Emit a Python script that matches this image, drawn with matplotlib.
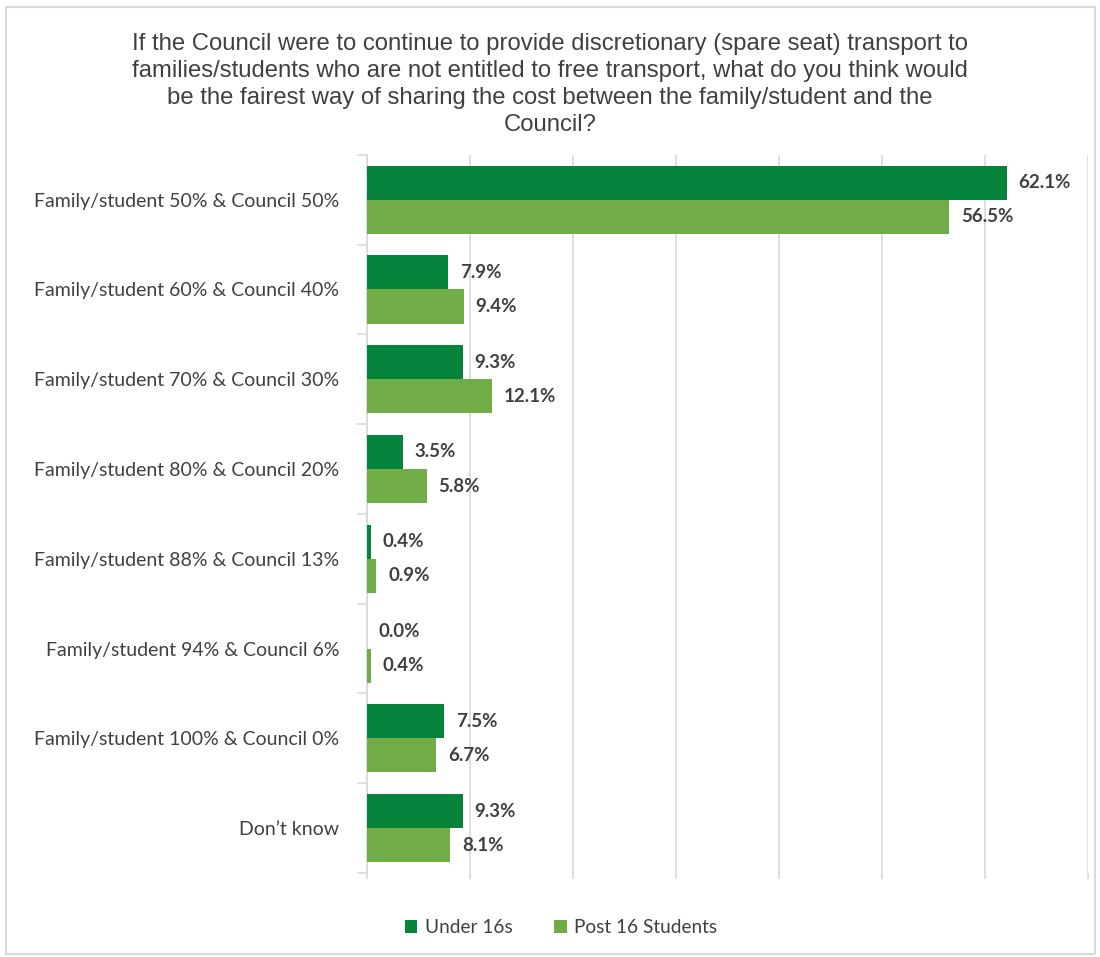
import matplotlib.pyplot as plt
import numpy as np

categories = [
    "Family/student 50% & Council 50%",
    "Family/student 60% & Council 40%",
    "Family/student 70% & Council 30%",
    "Family/student 80% & Council 20%",
    "Family/student 88% & Council 13%",
    "Family/student 94% & Council 6%",
    "Family/student 100% & Council 0%",
    "Don\u2019t know",
]
under16 = [62.1, 7.9, 9.3, 3.5, 0.4, 0.0, 7.5, 9.3]
post16 = [56.5, 9.4, 12.1, 5.8, 0.9, 0.4, 6.7, 8.1]
series_names = ["Under 16s", "Post 16 Students"]

title = ("If the Council were to continue to provide discretionary (spare seat) transport to\n"
         "families/students who are not entitled to free transport, what do you think would\n"
         "be the fairest way of sharing the cost between the family/student and the\n"
         "Council?")

dark = "#06843B"
light = "#70AD47"
txt = "#404040"
grid = "#D9D9D9"

plt.rcParams["font.family"] = ["Lato", "DejaVu Sans"]

fig = plt.figure(figsize=(11, 9.57), dpi=100)
ax = fig.add_axes([0.3336, 0.0878, 0.6555, 0.7505])

y = np.arange(len(categories))
h = 0.38
ax.barh(y - h / 2, under16, height=h, color=dark, label=series_names[0], zorder=3)
ax.barh(y + h / 2, post16, height=h, color=light, label=series_names[1], zorder=3)

for yi, v in zip(y, under16):
    ax.annotate(f"{v:.1f}%", (v, yi - h / 2), xytext=(8.5, 0), textcoords="offset points",
                va="center", ha="left", fontsize=13.5, fontweight="bold", color=txt)
for yi, v in zip(y, post16):
    ax.annotate(f"{v:.1f}%", (v, yi + h / 2), xytext=(8.5, 0), textcoords="offset points",
                va="center", ha="left", fontsize=13.5, fontweight="bold", color=txt)

ax.set_ylim(len(categories) - 0.5, -0.5)
ax.set_xlim(0, 70)
ax.set_xticks(np.arange(0, 71, 10))
ax.set_xticklabels([])
ax.tick_params(axis="x", length=4, color=grid, width=1.2)
ax.grid(axis="x", color=grid, linewidth=1.2, zorder=0)

ax.set_yticks(y)
ax.set_yticklabels(categories, fontsize=14, color=txt)
ax.tick_params(axis="y", length=0, pad=20)
ax.set_yticks(np.arange(-0.5, len(categories)), minor=True)
ax.tick_params(axis="y", which="minor", length=7, color=grid, width=1.2)

for s in ["top", "right", "bottom"]:
    ax.spines[s].set_visible(False)
ax.spines["left"].set_color(grid)
ax.spines["left"].set_linewidth(1.2)

fig.text(0.5, 0.966, title, ha="center", va="top", fontsize=17.2, color=txt,
         family=["Liberation Sans Narrow", "Liberation Sans"], linespacing=1.3)

leg = fig.legend(loc="center", bbox_to_anchor=(0.51, 0.031), ncol=2, frameon=False,
                 fontsize=13.7, handlelength=0.65, handleheight=0.65, columnspacing=2.2,
                 handletextpad=0.4)
for t in leg.get_texts():
    t.set_color(txt)

border = plt.Rectangle((0.005, 0.003), 0.99, 0.99, transform=fig.transFigure,
                       fill=False, edgecolor=grid, linewidth=1.5)
fig.patches.append(border)

fig.savefig("out.png", dpi=100)
